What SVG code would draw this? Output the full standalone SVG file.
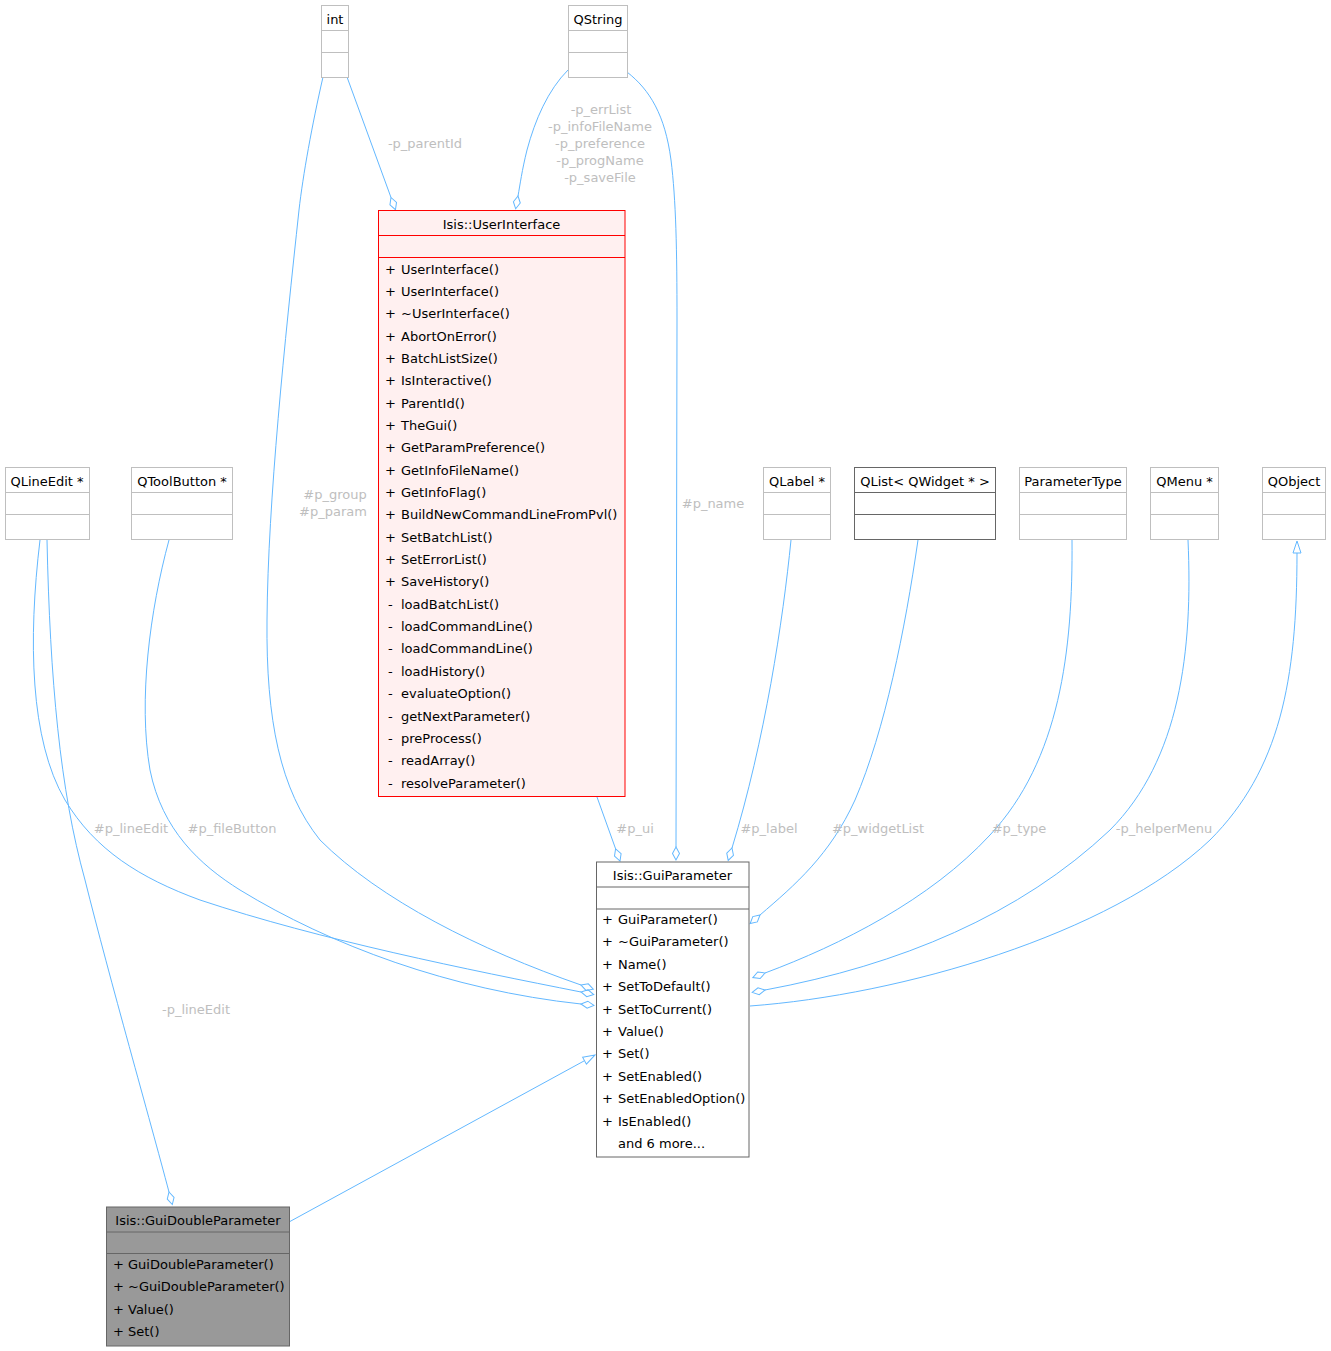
<svg xmlns="http://www.w3.org/2000/svg" width="1331" height="1351" viewBox="0 0 1331 1351">
<style>
text{font-family:"DejaVu Sans","Liberation Sans",sans-serif;font-size:13px;fill:#000}
.c{text-anchor:middle}
.lbl{fill:#bebebe;text-anchor:middle}
.box{fill:#fff;stroke:#bfbfbf;stroke-width:1}
.sep{stroke:#bfbfbf;stroke-width:1}
.dbox{fill:#fff;stroke:#666;stroke-width:1}
.dsep{stroke:#666;stroke-width:1}
.edge{fill:none;stroke:#63b8ff;stroke-width:1}
.ag{marker-end:url(#diamond)}
.ih{marker-end:url(#tri)}
</style>
<defs>
<marker id="diamond" markerUnits="userSpaceOnUse" markerWidth="16" markerHeight="10" refX="0" refY="5" orient="auto" viewBox="0 0 16 10" overflow="visible">
<path d="M0,5 L6.5,1.5 L13,5 L6.5,8.5 Z" fill="none" stroke="#63b8ff" stroke-width="1"/>
</marker>
<marker id="tri" markerUnits="userSpaceOnUse" markerWidth="14" markerHeight="10" refX="0" refY="5" orient="auto" viewBox="0 0 14 10" overflow="visible">
<path d="M0,1 L12,5 L0,9 Z" fill="#fff" stroke="#63b8ff" stroke-width="1"/>
</marker>
</defs>
<rect width="1331" height="1351" fill="#fff"/>

<g id="edges">
<path class="edge ag" d="M347,77 L391,197.5"/>
<path class="edge ag" d="M568,70 C548,90 535,120 527,150 C522,170 520,185 518,196"/>
<path class="edge ag" d="M323,77 C312,125 303,175 299,210 C285,340 268,500 267,620 C266,720 280,790 320,840 C380,900 480,950 581,985"/>
<path class="edge ag" d="M627,72 C650,90 665,115 671,160 C676,200 677,250 677,320 L676,847"/>
<path class="edge ag" d="M597,797 L615.6,848.8"/>
<path class="edge ag" d="M791,540 C783,620 765,740 732,848"/>
<path class="edge ag" d="M918,540 C905,630 885,730 855,800 C830,855 795,885 760,915"/>
<path class="edge ag" d="M1072,540 C1073,650 1060,760 990,835 C930,900 840,945 765,973"/>
<path class="edge ag" d="M1188,540 C1193,650 1180,760 1110,830 C1020,915 900,965 765,990"/>
<path class="edge ih" d="M750,1006 C900,995 1110,935 1210,840 C1280,770 1297,680 1297,553"/>
<path class="edge ag" d="M40,540 C28,640 30,740 65,800 C95,850 140,878 200,900 C320,940 470,970 581,992"/>
<path class="edge ag" d="M169,540 C150,610 138,700 150,770 C162,830 200,865 240,890 C330,945 450,990 581,1004"/>
<path class="edge ag" d="M47,540 C50,680 60,790 85,880 C110,980 150,1120 169,1192"/>
<path class="edge ih" d="M289,1222 L584.5,1060.7"/>

<text class="lbl" x="425" y="148">-p_parentId</text>
<text class="lbl" x="601" y="114">-p_errList</text>
<text class="lbl" x="600" y="131">-p_infoFileName</text>
<text class="lbl" x="600" y="148">-p_preference</text>
<text class="lbl" x="600" y="165">-p_progName</text>
<text class="lbl" x="600" y="182">-p_saveFile</text>
<text class="lbl" x="335" y="499">#p_group</text>
<text class="lbl" x="333" y="516">#p_param</text>
<text class="lbl" x="713" y="508">#p_name</text>
<text class="lbl" x="131" y="833">#p_lineEdit</text>
<text class="lbl" x="232" y="833">#p_fileButton</text>
<text class="lbl" x="635" y="833">#p_ui</text>
<text class="lbl" x="769" y="833">#p_label</text>
<text class="lbl" x="878" y="833">#p_widgetList</text>
<text class="lbl" x="1019" y="833">#p_type</text>
<text class="lbl" x="1164" y="833">-p_helperMenu</text>
<text class="lbl" x="196" y="1014">-p_lineEdit</text>
</g>

<g id="int">
<rect class="box" x="321.5" y="5.5" width="27" height="72"/>
<line class="sep" x1="321.5" y1="30.5" x2="348.5" y2="30.5"/>
<line class="sep" x1="321.5" y1="52.5" x2="348.5" y2="52.5"/>
<text class="c" x="335" y="24">int</text>
</g>

<g id="QString">
<rect class="box" x="568.5" y="5.5" width="59" height="72"/>
<line class="sep" x1="568.5" y1="30.5" x2="627.5" y2="30.5"/>
<line class="sep" x1="568.5" y1="52.5" x2="627.5" y2="52.5"/>
<text class="c" x="598" y="24">QString</text>
</g>

<g id="QLineEdit">
<rect class="box" x="5.5" y="467.5" width="84" height="72"/>
<line class="sep" x1="5.5" y1="492.5" x2="89.5" y2="492.5"/>
<line class="sep" x1="5.5" y1="514.5" x2="89.5" y2="514.5"/>
<text class="c" x="47" y="486">QLineEdit *</text>
</g>

<g id="QToolButton">
<rect class="box" x="131.5" y="467.5" width="101" height="72"/>
<line class="sep" x1="131.5" y1="492.5" x2="232.5" y2="492.5"/>
<line class="sep" x1="131.5" y1="514.5" x2="232.5" y2="514.5"/>
<text class="c" x="182" y="486">QToolButton *</text>
</g>

<g id="QLabel">
<rect class="box" x="763.5" y="467.5" width="67" height="72"/>
<line class="sep" x1="763.5" y1="492.5" x2="830.5" y2="492.5"/>
<line class="sep" x1="763.5" y1="514.5" x2="830.5" y2="514.5"/>
<text class="c" x="797" y="486">QLabel *</text>
</g>

<g id="QList">
<rect class="dbox" x="854.5" y="467.5" width="141" height="72"/>
<line class="dsep" x1="854.5" y1="492.5" x2="995.5" y2="492.5"/>
<line class="dsep" x1="854.5" y1="514.5" x2="995.5" y2="514.5"/>
<text class="c" x="925" y="486">QList&lt; QWidget * &gt;</text>
</g>

<g id="ParameterType">
<rect class="box" x="1019.5" y="467.5" width="107" height="72"/>
<line class="sep" x1="1019.5" y1="492.5" x2="1126.5" y2="492.5"/>
<line class="sep" x1="1019.5" y1="514.5" x2="1126.5" y2="514.5"/>
<text class="c" x="1073" y="486">ParameterType</text>
</g>

<g id="QMenu">
<rect class="box" x="1150.5" y="467.5" width="68" height="72"/>
<line class="sep" x1="1150.5" y1="492.5" x2="1218.5" y2="492.5"/>
<line class="sep" x1="1150.5" y1="514.5" x2="1218.5" y2="514.5"/>
<text class="c" x="1184.5" y="486">QMenu *</text>
</g>

<g id="QObject">
<rect class="box" x="1262.5" y="467.5" width="63" height="72"/>
<line class="sep" x1="1262.5" y1="492.5" x2="1325.5" y2="492.5"/>
<line class="sep" x1="1262.5" y1="514.5" x2="1325.5" y2="514.5"/>
<text class="c" x="1294" y="486">QObject</text>
</g>

<g id="UserInterface">
<rect x="378.5" y="210.5" width="246.5" height="586" fill="#fff0f0" stroke="#ff0000"/>
<line x1="378.5" y1="235.5" x2="625" y2="235.5" stroke="#ff0000"/>
<line x1="378.5" y1="257.5" x2="625" y2="257.5" stroke="#ff0000"/>
<text class="c" x="501.5" y="229">Isis::UserInterface</text>
<text x="385" y="273.5">+</text><text x="401" y="273.5">UserInterface()</text>
<text x="385" y="295.85">+</text><text x="401" y="295.85">UserInterface()</text>
<text x="385" y="318.2">+</text><text x="401" y="318.2">~UserInterface()</text>
<text x="385" y="340.55">+</text><text x="401" y="340.55">AbortOnError()</text>
<text x="385" y="362.9">+</text><text x="401" y="362.9">BatchListSize()</text>
<text x="385" y="385.25">+</text><text x="401" y="385.25">IsInteractive()</text>
<text x="385" y="407.6">+</text><text x="401" y="407.6">ParentId()</text>
<text x="385" y="429.95">+</text><text x="401" y="429.95">TheGui()</text>
<text x="385" y="452.3">+</text><text x="401" y="452.3">GetParamPreference()</text>
<text x="385" y="474.65">+</text><text x="401" y="474.65">GetInfoFileName()</text>
<text x="385" y="497">+</text><text x="401" y="497">GetInfoFlag()</text>
<text x="385" y="519.35">+</text><text x="401" y="519.35">BuildNewCommandLineFromPvl()</text>
<text x="385" y="541.7">+</text><text x="401" y="541.7">SetBatchList()</text>
<text x="385" y="564.05">+</text><text x="401" y="564.05">SetErrorList()</text>
<text x="385" y="586.4">+</text><text x="401" y="586.4">SaveHistory()</text>
<text x="388" y="608.75">-</text><text x="401" y="608.75">loadBatchList()</text>
<text x="388" y="631.1">-</text><text x="401" y="631.1">loadCommandLine()</text>
<text x="388" y="653.45">-</text><text x="401" y="653.45">loadCommandLine()</text>
<text x="388" y="675.8">-</text><text x="401" y="675.8">loadHistory()</text>
<text x="388" y="698.15">-</text><text x="401" y="698.15">evaluateOption()</text>
<text x="388" y="720.5">-</text><text x="401" y="720.5">getNextParameter()</text>
<text x="388" y="742.85">-</text><text x="401" y="742.85">preProcess()</text>
<text x="388" y="765.2">-</text><text x="401" y="765.2">readArray()</text>
<text x="388" y="787.55">-</text><text x="401" y="787.55">resolveParameter()</text>
</g>

<g id="GuiParameter">
<rect x="596.5" y="862" width="152.5" height="295" fill="#fff" stroke="#666"/>
<line x1="596.5" y1="887" x2="749" y2="887" stroke="#666"/>
<line x1="596.5" y1="909" x2="749" y2="909" stroke="#666"/>
<text class="c" x="672.5" y="880">Isis::GuiParameter</text>
<text x="602" y="924">+</text><text x="618" y="924">GuiParameter()</text>
<text x="602" y="946.4">+</text><text x="618" y="946.4">~GuiParameter()</text>
<text x="602" y="968.8">+</text><text x="618" y="968.8">Name()</text>
<text x="602" y="991.2">+</text><text x="618" y="991.2">SetToDefault()</text>
<text x="602" y="1013.6">+</text><text x="618" y="1013.6">SetToCurrent()</text>
<text x="602" y="1036">+</text><text x="618" y="1036">Value()</text>
<text x="602" y="1058.4">+</text><text x="618" y="1058.4">Set()</text>
<text x="602" y="1080.8">+</text><text x="618" y="1080.8">SetEnabled()</text>
<text x="602" y="1103.2">+</text><text x="618" y="1103.2">SetEnabledOption()</text>
<text x="602" y="1125.6">+</text><text x="618" y="1125.6">IsEnabled()</text>
<text x="618" y="1148">and 6 more...</text>
</g>

<g id="GuiDoubleParameter">
<rect x="106.5" y="1207" width="183" height="139" fill="#999" stroke="#666"/>
<line x1="106.5" y1="1232" x2="289.5" y2="1232" stroke="#666"/>
<line x1="106.5" y1="1253.5" x2="289.5" y2="1253.5" stroke="#666"/>
<text class="c" x="198" y="1225">Isis::GuiDoubleParameter</text>
<text x="113" y="1269">+</text><text x="128" y="1269">GuiDoubleParameter()</text>
<text x="113" y="1291.4">+</text><text x="128" y="1291.4">~GuiDoubleParameter()</text>
<text x="113" y="1313.8">+</text><text x="128" y="1313.8">Value()</text>
<text x="113" y="1336.2">+</text><text x="128" y="1336.2">Set()</text>
</g>
</svg>
